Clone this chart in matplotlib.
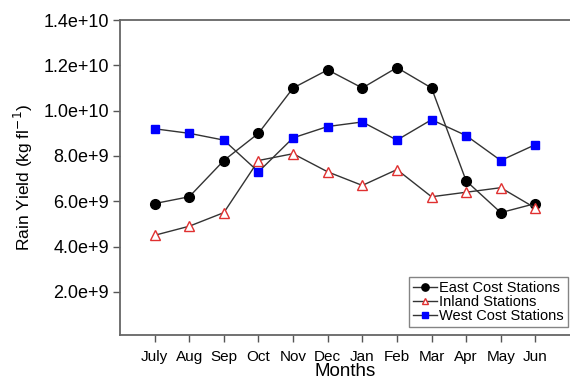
import matplotlib
matplotlib.use("Agg")
import matplotlib.pyplot as plt
from matplotlib.ticker import FixedLocator

plt.rcParams['font.family'] = ['Liberation Sans', 'DejaVu Sans']

months = ["July", "Aug", "Sep", "Oct", "Nov", "Dec", "Jan", "Feb", "Mar", "Apr", "May", "Jun"]
east = [5.9e9, 6.2e9, 7.8e9, 9.0e9, 11.0e9, 11.8e9, 11.0e9, 11.9e9, 11.0e9, 6.9e9, 5.5e9, 5.9e9]
inland = [4.5e9, 4.9e9, 5.5e9, 7.8e9, 8.1e9, 7.3e9, 6.7e9, 7.4e9, 6.2e9, 6.4e9, 6.6e9, 5.7e9]
west = [9.2e9, 9.0e9, 8.7e9, 7.3e9, 8.8e9, 9.3e9, 9.5e9, 8.7e9, 9.6e9, 8.9e9, 7.8e9, 8.5e9]
yticks = [2.0e9, 4.0e9, 6.0e9, 8.0e9, 1.0e10, 1.2e10, 1.4e10]
ytick_labels = ["2.0e+9", "4.0e+9", "6.0e+9", "8.0e+9", "1.0e+10", "1.2e+10", "1.4e+10"]

fig = plt.figure(figsize=(5.70, 3.83), dpi=100)
ax = fig.add_axes([120/570, 1 - 335/383, 450/570, 315/383])

x = list(range(len(months)))
lc = '#333333'
ax.plot(x, east, color=lc, lw=1.0, marker='o', ms=7, mfc='black', mec='black', label='East Cost Stations')
ax.plot(x, inland, color=lc, lw=1.0, marker='^', ms=6.5, mfc='white', mec='#e03030', mew=1.0, label='Inland Stations')
ax.plot(x, west, color=lc, lw=1.0, marker='s', ms=5.5, mfc='#0000ff', mec='#0000ff', label='West Cost Stations')

ax.set_xlim(-1, 12)
ax.set_ylim(1.0e8, 1.4e10)
ax.set_xticks(x)
ax.set_xticklabels(months, fontsize=11)
ax.yaxis.set_major_locator(FixedLocator(yticks))
ax.set_yticklabels(ytick_labels, fontsize=13)
ax.tick_params(axis='both', direction='out', length=5, width=1, color='#555555')
ax.tick_params(axis='x', pad=6)
ax.tick_params(axis='y', pad=3)
for s in ['left', 'top', 'bottom']:
    ax.spines[s].set_color('#666666')
    ax.spines[s].set_linewidth(1.3)
ax.spines['right'].set_visible(False)

ax.set_xlabel("Months", fontsize=13.5, labelpad=-1)
ax.set_ylabel("Rain Yield (kg fl$^{-1}$)", fontsize=12.5, labelpad=6)

leg = ax.legend(loc='lower right', bbox_to_anchor=(1.003, 0.015), fontsize=10.5, frameon=True,
                fancybox=False, edgecolor='#666666', handlelength=1.6, handletextpad=0.2,
                labelspacing=0.0, borderpad=0.3, borderaxespad=0.2, markerscale=0.75)
leg.get_frame().set_linewidth(1.0)

fig.savefig("out.png", dpi=100)
